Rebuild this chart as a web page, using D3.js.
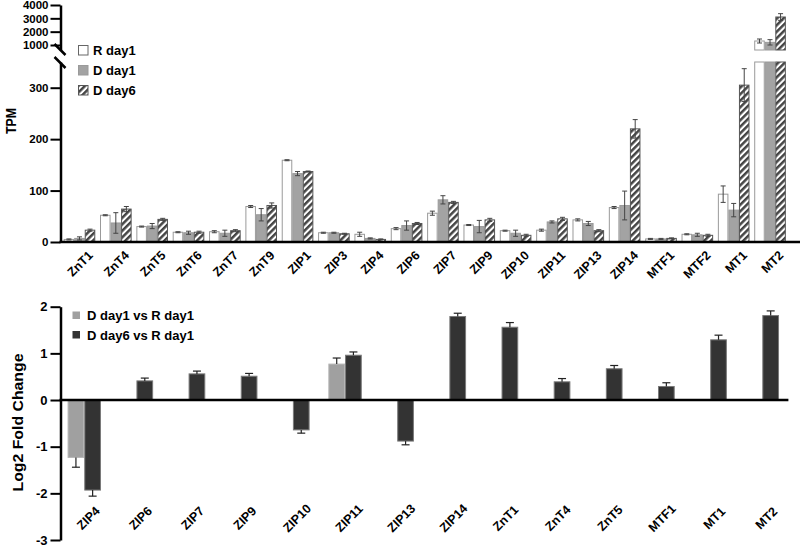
<!DOCTYPE html>
<html><head><meta charset="utf-8">
<script src="https://cdn.jsdelivr.net/npm/d3@7"></script>
<style>
body{margin:0;background:#fff}
text{font-family:"Liberation Sans",Arial,sans-serif;font-weight:bold;fill:#000}
</style>
</head><body>
<svg id="chart" width="800" height="547"></svg>
<script>
// ---------- Top panel data (TPM) ----------
const genes = ["ZnT1","ZnT4","ZnT5","ZnT6","ZnT7","ZnT9","ZIP1","ZIP3","ZIP4","ZIP6","ZIP7","ZIP9","ZIP10","ZIP11","ZIP13","ZIP14","MTF1","MTF2","MT1","MT2"];
const seriesNames = ["R day1","D day1","D day6"];
const rDay1   = [5, 52, 30, 19, 20, 69, 159, 18, 15, 26, 56, 33, 22, 23, 43, 67, 6, 15, 93, 1300];
const dDay1   = [7, 37, 31, 18, 17, 53, 133, 18, 7, 32, 82, 30, 17, 39, 36, 71, 6, 14, 62, 1200];
const dDay6   = [23, 64, 44, 19, 22, 71, 137, 16, 5, 36, 77, 43, 13, 45, 22, 220, 7, 13, 305, 3100];
const rDay1Sd = [1, 1, 1, 1, 2, 2, 1, 1, 4, 2, 4, 1, 1, 2, 2, 2, 1, 1, 16, 150];
const dDay1Sd = [3, 20, 5, 3, 6, 12, 4, 1, 1, 9, 8, 12, 6, 2, 4, 28, 1, 3, 13, 200];
const dDay6Sd = [2, 5, 2, 2, 2, 5, 1, 1, 1, 2, 2, 3, 2, 3, 2, 18, 1, 2, 32, 250];
const tpmTicksLow  = [0, 100, 200, 300];
const tpmTicksHigh = [1000, 2000, 3000, 4000];

// ---------- Bottom panel data (Log2 fold change) ----------
const fcGenes = ["ZIP4","ZIP6","ZIP7","ZIP9","ZIP10","ZIP11","ZIP13","ZIP14","ZnT1","ZnT4","ZnT5","MTF1","MT1","MT2"];
const fcNames = ["D day1 vs R day1","D day6 vs R day1"];
const fcDay1   = [-1.23, null, null, null, null, 0.77, null, null, null, null, null, null, null, null];
const fcDay6   = [-1.93, 0.41, 0.56, 0.51, -0.64, 0.96, -0.88, 1.79, 1.56, 0.39, 0.67, 0.29, 1.29, 1.81];
const fcDay1Sd = [0.21, null, null, null, null, 0.13, null, null, null, null, null, null, null, null];
const fcDay6Sd = [0.13, 0.06, 0.06, 0.06, 0.07, 0.07, 0.08, 0.07, 0.10, 0.07, 0.07, 0.08, 0.10, 0.10];
const fcTicks = [2, 1, 0, -1, -2, -3];

const svg = d3.select("#chart");
const defs = svg.append("defs");
const pat = defs.append("pattern").attr("id","hatch").attr("patternUnits","userSpaceOnUse")
  .attr("width",4.6).attr("height",4.6).attr("patternTransform","rotate(45)");
pat.append("rect").attr("width",4.6).attr("height",4.6).attr("fill","#fff");
pat.append("line").attr("x1",1.2).attr("y1",0).attr("x2",1.2).attr("y2",4.6)
  .attr("stroke","#444").attr("stroke-width",2.6);

const fills = ["#ffffff","#a3a3a3","url(#hatch)"];
const strokes = ["#9a9a9a","#9a9a9a","#555"];

// ================= TOP PANEL =================
const axX = 60.5, base = 242;
const x = d3.scaleBand().domain(genes).range([61.3, 788.2]);
const gw = x.bandwidth()*0.87;
const xs = d3.scaleBand().domain([0,1,2]).range([0, gw]);
const yLow = d3.scaleLinear().domain([0, 350]).range([base, 62]);
const yHigh = d3.scaleLinear().domain([625, 4000]).range([50, 5]);
const LOWMAX = 350, HIGHMIN = 625;

const vals = [rDay1, dDay1, dDay6];
const sds = [rDay1Sd, dDay1Sd, dDay6Sd];
const topG = svg.append("g");
genes.forEach((g, i) => {
  const gx = x(g) + (x.bandwidth()-gw)/2;
  vals.forEach((arr, s) => {
    const v = arr[i];
    const bx = gx + xs(s);
    const bw = xs.bandwidth();
    if (v <= LOWMAX) {
      topG.append("rect").attr("x",bx+0.5).attr("y",yLow(v)).attr("width",bw-1).attr("height",base-yLow(v))
        .attr("fill",fills[s]).attr("stroke",strokes[s]).attr("stroke-width",1);
    } else {
      topG.append("rect").attr("x",bx+0.5).attr("y",yLow(LOWMAX)).attr("width",bw-1).attr("height",base-yLow(LOWMAX))
        .attr("fill",fills[s]).attr("stroke",strokes[s]).attr("stroke-width",1);
      topG.append("rect").attr("x",bx+0.5).attr("y",yHigh(v)).attr("width",bw-1).attr("height",yHigh(HIGHMIN)-yHigh(v))
        .attr("fill",fills[s]).attr("stroke",strokes[s]).attr("stroke-width",1);
    }
    const sd = sds[s][i];
    const ys = v <= LOWMAX ? yLow : yHigh;
    const cx = bx + bw/2;
    const y1 = ys(v + sd), y2 = ys(Math.max(v - sd, v <= LOWMAX ? 0 : HIGHMIN));
    topG.append("line").attr("x1",cx).attr("x2",cx).attr("y1",y1).attr("y2",y2).attr("stroke","#444").attr("stroke-width",1);
    topG.append("line").attr("x1",cx-2.5).attr("x2",cx+2.5).attr("y1",y1).attr("y2",y1).attr("stroke","#444").attr("stroke-width",1);
    topG.append("line").attr("x1",cx-2.5).attr("x2",cx+2.5).attr("y1",y2).attr("y2",y2).attr("stroke","#444").attr("stroke-width",1);
  });
});

const axLow = svg.append("g").attr("transform",`translate(${axX},0)`)
  .call(d3.axisLeft(yLow).tickValues(tpmTicksLow).tickFormat(d3.format("d")).tickSize(10).tickSizeOuter(0).tickPadding(2));
const axHigh = svg.append("g").attr("transform",`translate(${axX},0)`)
  .call(d3.axisLeft(yHigh).tickValues(tpmTicksHigh).tickFormat(d3.format("d")).tickSize(10).tickSizeOuter(0).tickPadding(2));
[axLow, axHigh].forEach(a => {
  a.select(".domain").attr("stroke","#000").attr("stroke-width",2.5);
  a.selectAll(".tick line").attr("stroke","#000").attr("stroke-width",2);
  a.selectAll(".tick text").style("font-size","11.5px").style("font-weight","bold")
    .style("font-family","'Liberation Sans',Arial,sans-serif").attr("fill","#000");
});
svg.append("line").attr("x1",axX-6).attr("y1",44).attr("x2",axX+5).attr("y2",55).attr("stroke","#000").attr("stroke-width",2.5);
svg.append("line").attr("x1",axX-6).attr("y1",57).attr("x2",axX+5).attr("y2",68).attr("stroke","#000").attr("stroke-width",2.5);

svg.append("line").attr("x1",axX-1).attr("x2",800).attr("y1",base).attr("y2",base).attr("stroke","#000").attr("stroke-width",2.5);

svg.append("g").selectAll("text").data(genes).join("text")
  .attr("transform", d => `translate(${x(d)+x.bandwidth()/2+8},${base+8}) rotate(-45)`)
  .attr("text-anchor","end").attr("dy","0.7em").style("font-size","12.5px").text(d => d);

svg.append("text").attr("transform","translate(15.5,121) rotate(-90)").attr("text-anchor","middle")
  .attr("textLength",26).attr("lengthAdjust","spacingAndGlyphs")
  .style("font-size","15px").text("TPM");

const legT = svg.append("g");
seriesNames.forEach((n, s) => {
  const ly = 45 + s*20;
  legT.append("rect").attr("x",78.5).attr("y",ly+0.5).attr("width",9.5).attr("height",9.5)
    .attr("fill",fills[s]).attr("stroke",s===0?"#666":strokes[s]).attr("stroke-width",1);
  legT.append("text").attr("x",93).attr("y",ly+10).style("font-size","13px").text(n);
});

// ================= BOTTOM PANEL =================
const fx = d3.scaleBand().domain(fcGenes).range([58.2, 788.4]);
const fgw = 33.4;
const fxs = d3.scaleBand().domain([0,1]).range([0, fgw]);
const fy = d3.scaleLinear().domain([-3, 2]).range([540, 306.7]);
const fcVals = [fcDay1, fcDay6];
const fcSds = [fcDay1Sd, fcDay6Sd];
const fcFills = ["#a0a0a0","#333333"];
const fcStrokes = ["#b5b5b5","#7a7a7a"];
const bot = svg.append("g");
fcGenes.forEach((g, i) => {
  const gx = fx(g) + (fx.bandwidth()-fgw)/2;
  fcVals.forEach((arr, s) => {
    const v = arr[i];
    if (v === null) return;
    const bx = gx + fxs(s), bw = fxs.bandwidth();
    const y0 = fy(0), yv = fy(v);
    bot.append("rect").attr("x",bx+0.5).attr("y",Math.min(y0,yv)).attr("width",bw-1).attr("height",Math.abs(yv-y0))
      .attr("fill",fcFills[s]).attr("stroke",fcStrokes[s]).attr("stroke-width",1);
    const sd = fcSds[s][i];
    const ye = fy(v + (v >= 0 ? sd : -sd));
    const cx = bx + bw/2;
    bot.append("line").attr("x1",cx).attr("x2",cx).attr("y1",yv).attr("y2",ye).attr("stroke","#222").attr("stroke-width",1.2);
    bot.append("line").attr("x1",cx-4).attr("x2",cx+4).attr("y1",ye).attr("y2",ye).attr("stroke","#222").attr("stroke-width",1.2);
  });
});
const axB = svg.append("g").attr("transform",`translate(${axX},0)`)
  .call(d3.axisLeft(fy).tickValues(fcTicks).tickFormat(d3.format("d")).tickSize(10).tickSizeOuter(0).tickPadding(3));
axB.select(".domain").attr("stroke","#000").attr("stroke-width",2.5);
axB.selectAll(".tick line").attr("stroke","#000").attr("stroke-width",2);
axB.selectAll(".tick text").style("font-size","13px").style("font-weight","bold")
  .style("font-family","'Liberation Sans',Arial,sans-serif").attr("fill","#000").text(d => d < 0 ? "-" + Math.abs(d) : d);
svg.append("line").attr("x1",axX-1).attr("x2",788.4).attr("y1",fy(0)).attr("y2",fy(0)).attr("stroke","#000").attr("stroke-width",2.5);

svg.append("g").selectAll("text").data(fcGenes).join("text")
  .attr("transform", d => `translate(${fx(d)+fx.bandwidth()/2+4},518) rotate(-45)`)
  .attr("text-anchor","middle").attr("dy","0.35em").style("font-size","12.5px").text(d => d);

svg.append("text").attr("transform","translate(22.5,422.5) rotate(-90)").attr("text-anchor","middle")
  .attr("textLength",138).attr("lengthAdjust","spacingAndGlyphs")
  .style("font-size","15px").text("Log2 Fold Change");

const legB = svg.append("g");
fcNames.forEach((n, s) => {
  const ly = 311.5 + s*19.5;
  legB.append("rect").attr("x",72.5).attr("y",ly).attr("width",7.5).attr("height",7.5).attr("fill",fcFills[s]);
  legB.append("text").attr("x",87).attr("y",ly+8.5).style("font-size","13px").text(n);
});
</script>
</body></html>
